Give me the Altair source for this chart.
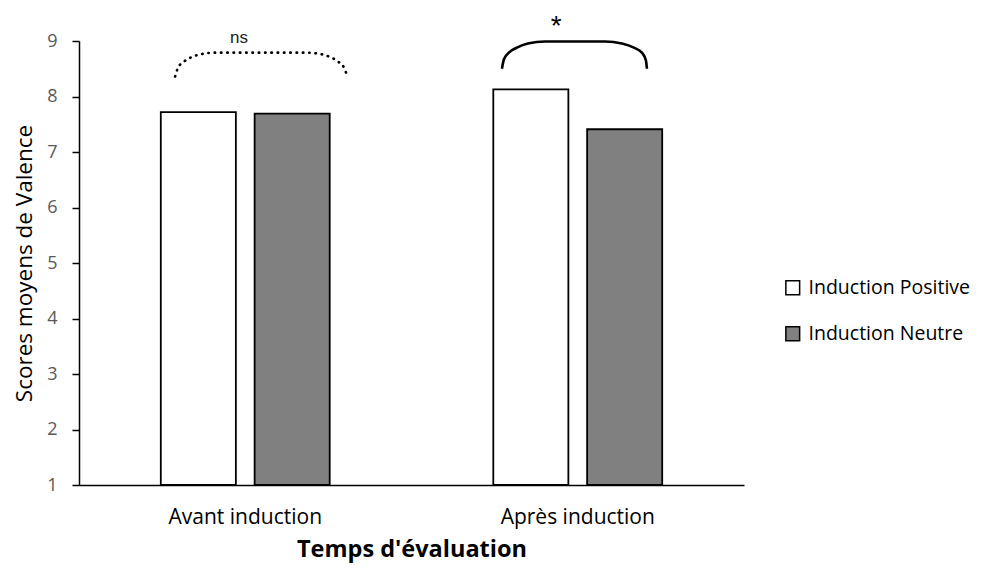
import altair as alt
import pandas as pd

# ---- data ----
temps = ["Avant induction", "Avant induction", "Après induction", "Après induction"]
groupe = ["Induction Positive", "Induction Neutre", "Induction Positive", "Induction Neutre"]
scores = [7.72, 7.69, 8.13, 7.41]
base = [1, 1, 1, 1]

categories = ["Avant induction", "Après induction"]
series = ["Induction Positive", "Induction Neutre"]
colors = ["#ffffff", "#808080"]
y_ticks = [1, 2, 3, 4, 5, 6, 7, 8, 9]

# significance braces (x in group units 0..2, y in score units)
brace_ns_x = [0.289, 0.298, 0.316, 0.343, 0.379, 0.409, 0.680, 0.716, 0.752, 0.779, 0.797, 0.806]
brace_ns_y = [8.36, 8.52, 8.63, 8.72, 8.775, 8.79, 8.79, 8.775, 8.72, 8.63, 8.52, 8.38]
brace_sig_x = [1.272, 1.278, 1.293, 1.317, 1.350, 1.402, 1.582, 1.633, 1.669, 1.693, 1.705, 1.708]
brace_sig_y = [8.50, 8.67, 8.79, 8.88, 8.955, 8.99, 8.99, 8.955, 8.88, 8.79, 8.65, 8.50]
labels_txt = ["ns", "*"]
labels_x = [0.481, 1.435]
labels_y = [8.97, 9.11]

FONT = "Open Sans"

df = pd.DataFrame({"temps": temps, "groupe": groupe, "score": scores, "base": base})
d_ns = pd.DataFrame({"x": brace_ns_x, "y": brace_ns_y, "i": list(range(len(brace_ns_x)))})
d_sig = pd.DataFrame({"x": brace_sig_x, "y": brace_sig_y, "i": list(range(len(brace_sig_x)))})
d_lab = pd.DataFrame({"t": labels_txt, "x": labels_x, "y": labels_y})

yscale = alt.Scale(domain=[1, 9], nice=False, zero=False)

bars = alt.Chart(df).mark_bar(stroke="black", strokeWidth=1.8).encode(
    x=alt.X("temps:N", sort=categories,
            scale=alt.Scale(paddingInner=0.492, paddingOuter=0.246),
            axis=alt.Axis(title="Temps d'évaluation", labelAngle=0, ticks=False, tickSize=0,
                          domainColor="black", domainWidth=1.5,
                          labelFont=FONT, labelFontSize=21, labelColor="#000000",
                          labelPadding=38, labelBaseline="alphabetic",
                          titleFont=FONT, titleFontSize=23.5, titleFontWeight="bold",
                          titleColor="#000000", titleY=71, titleBaseline="alphabetic")),
    xOffset=alt.XOffset("groupe:N", sort=series,
                        scale=alt.Scale(paddingInner=0.2, paddingOuter=0)),
    y=alt.Y("score:Q", scale=yscale,
            axis=alt.Axis(title="Scores moyens de Valence", values=y_ticks, format="d", grid=False,
                          domainColor="black", domainWidth=1.5,
                          tickColor="black", tickWidth=1.5, tickSize=7,
                          labelFont=FONT, labelFontSize=18, labelColor="#595959",
                          labelPadding=15,
                          titleFont=FONT, titleFontSize=22.5, titleFontWeight="normal",
                          titleColor="#000000", titleX=-48, titleY=222,
                          titleAngle=270, titleBaseline="alphabetic", titleAlign="center")),
    y2="base:Q",
    color=alt.Color("groupe:N", sort=series,
                    scale=alt.Scale(domain=series, range=colors),
                    legend=alt.Legend(title=None, orient="none", legendX=704, legendY=237,
                                      symbolType="square", symbolSize=190,
                                      symbolStrokeColor="black", symbolStrokeWidth=1.5,
                                      labelFont=FONT, labelFontSize=19.5, labelColor="#000000",
                                      labelLimit=400,
                                      labelOffset=6, rowPadding=25, padding=0)),
)

xq = alt.Scale(domain=[0, 2], nice=False, zero=False)

ns_line = alt.Chart(d_ns).mark_line(color="black", strokeWidth=2.6, strokeDash=[0.5, 5.8],
                                    strokeCap="round", interpolate="monotone").encode(
    x=alt.X("x:Q", scale=xq, axis=None),
    y=alt.Y("y:Q", scale=yscale),
    order="i:Q",
)
sig_line = alt.Chart(d_sig).mark_line(color="black", strokeWidth=2.6,
                                      interpolate="monotone").encode(
    x=alt.X("x:Q", scale=xq, axis=None),
    y=alt.Y("y:Q", scale=yscale),
    order="i:Q",
)
ns_text = alt.Chart(d_lab.iloc[[0]]).mark_text(font="Liberation Sans", fontSize=17,
                                                color="#222222", baseline="alphabetic").encode(
    x=alt.X("x:Q", scale=xq, axis=None),
    y=alt.Y("y:Q", scale=yscale),
    text="t:N",
)
star_text = alt.Chart(d_lab.iloc[[1]]).mark_text(font="Liberation Sans", fontSize=28,
                                                  color="#000000", baseline="alphabetic").encode(
    x=alt.X("x:Q", scale=xq, axis=None),
    y=alt.Y("y:Q", scale=yscale),
    text="t:N",
)

annot = alt.layer(ns_line, sig_line, ns_text, star_text)

chart = alt.layer(bars, annot).resolve_scale(x="independent").properties(
    width=665, height=444,
    background="white",
    autosize=alt.AutoSizeParams(type="none"),
    padding={"left": 71, "top": 33, "right": 230, "bottom": 79},
).configure_view(strokeWidth=0, stroke="transparent")

chart.save("out.html", embed_options={"renderer": "svg", "actions": False})
